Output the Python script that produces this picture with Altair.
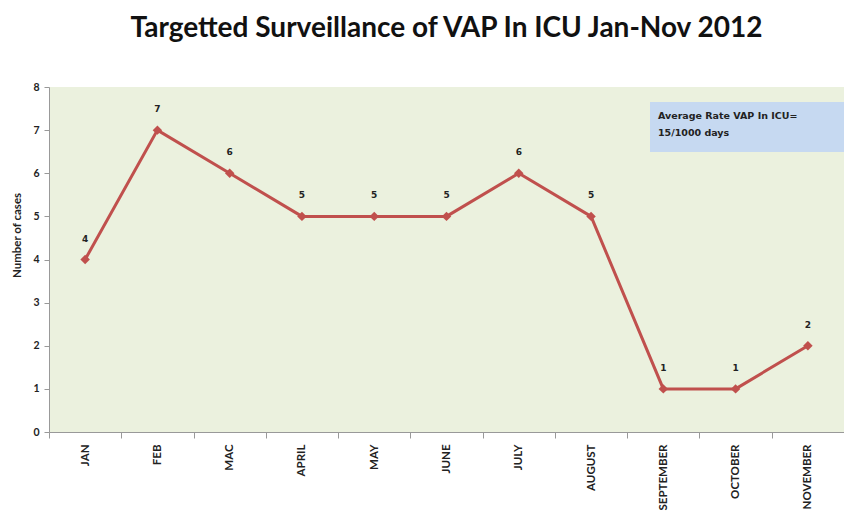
import altair as alt
import pandas as pd

months = ["JAN", "FEB", "MAC", "APRIL", "MAY", "JUNE", "JULY", "AUGUST", "SEPTEMBER", "OCTOBER", "NOVEMBER"]
cases = [4, 7, 6, 5, 5, 5, 6, 5, 1, 1, 2]
note_lines = ["Average  Rate VAP In ICU=", "15/1000 days"]

df = pd.DataFrame({"month": months, "cases": cases})

W, H = 795, 345
LINE = "#c0504d"

x = alt.X("month:N", sort=months, title=None,
          scale=alt.Scale(paddingInner=0, paddingOuter=0),
          axis=alt.Axis(labelAngle=-90, labelFontSize=11.5, labelFontWeight="bold",
                        labelFont="Lato", labelColor="#222", labelPadding=6,
                        domainColor="#999", tickColor="#999", tickBand="extent",
                        tickSize=6, labelAlign="right", labelBaseline="middle"))
y = alt.Y("cases:Q", title="Number of cases",
          scale=alt.Scale(domain=[0, 8]),
          axis=alt.Axis(values=list(range(9)), grid=False, labelFontSize=10.5,
                        labelFont="Lato", labelColor="#222", labelFontWeight="bold",
                        domainColor="#999", tickColor="#999", tickSize=5, labelPadding=5,
                        titleFontSize=11.5, titleFont="Lato", titleFontWeight="bold",
                        titleColor="#222", titleX=-27, titleY=148,
                        titleAlign="center", titleAngle=270, titleBaseline="bottom"))

base = alt.Chart(df)
line = base.mark_line(color=LINE, strokeWidth=3).encode(x=x, y=y)
pts = base.mark_point(shape="diamond", filled=True, size=90, color=LINE, opacity=1).encode(x=x, y=y)
labels = base.mark_text(dy=-21, fontSize=9, fontWeight="bold", font="DejaVu Sans", color="#222").encode(
    x=x, y=y, text="cases:Q")

box = alt.Chart(pd.DataFrame({"a": [0]})).mark_rect(color="#c6d9f1").encode(
    x=alt.value(601), x2=alt.value(W), y=alt.value(15), y2=alt.value(65))
note = alt.Chart(pd.DataFrame({"t": [note_lines]})).mark_text(
    align="left", baseline="top", fontSize=9.5, fontWeight="bold", font="DejaVu Sans",
    color="#222", lineHeight=17).encode(
    x=alt.value(609), y=alt.value(24), text="t")

chart = alt.layer(box, note, line, pts, labels).properties(
    width=W, height=H,
    title=alt.TitleParams("Targetted Surveillance of VAP In ICU Jan-Nov 2012",
                          font="Lato", fontSize=28, fontWeight="bold", color="#111",
                          offset=39),
    autosize=alt.AutoSizeParams(type="none"),
    padding={"left": 41, "top": 79, "right": 0, "bottom": 82},
    background="white",
).configure_view(fill="#ebf1de", stroke=None)

chart.save("out.html", embed_options={"renderer": "svg", "actions": False})
